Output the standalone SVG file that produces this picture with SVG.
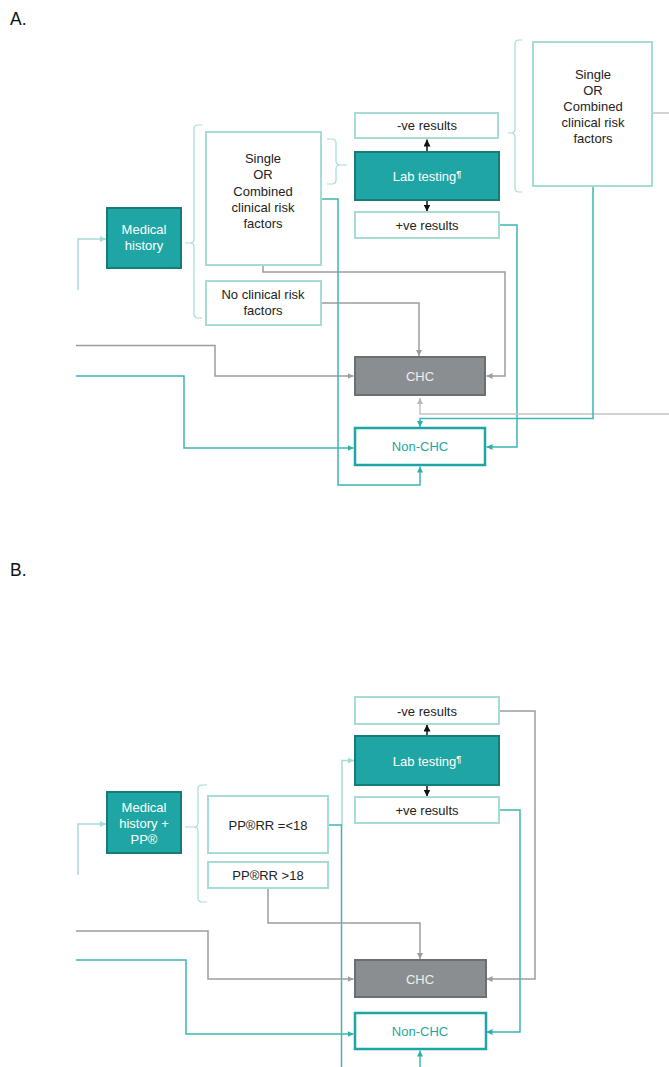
<svg xmlns="http://www.w3.org/2000/svg" width="669" height="1067" viewBox="0 0 669 1067">
<defs>
<style>
text{font-family:"Liberation Sans",Arial,sans-serif;font-size:13px;text-anchor:middle;fill:#222}
.lbl{font-size:17.5px;text-anchor:start;fill:#111}
.dark rect{fill:#1fa5a3;stroke:#167c7a;stroke-width:2}
.dark text{fill:#fff}
.lite rect{fill:#fff;stroke:#a6dbd6;stroke-width:2}
.chc rect{fill:#8b8e91;stroke:#6c6f72;stroke-width:2}
.chc text{fill:#eee}
.non rect{fill:#fff;stroke:#1fa5a3;stroke-width:2.5}
.non text{fill:#1fa5a3}
.c{fill:none;stroke-width:1.5}
.g{stroke:#9a9da0}
.lg{stroke:#c4c4c4}
.t{stroke:#3cb6b3}
.lt{stroke:#a6dbd6}
.k{stroke:#111}
.br{fill:none;stroke:#a6dbd6;stroke-width:1.2}
</style>
<marker id="ag" viewBox="0 0 10 10" refX="10" refY="5" markerWidth="6" markerHeight="6" orient="auto" markerUnits="userSpaceOnUse"><path d="M0,0L10,5L0,10z" fill="#9a9da0"/></marker>
<marker id="alg" viewBox="0 0 10 10" refX="10" refY="5" markerWidth="6" markerHeight="6" orient="auto" markerUnits="userSpaceOnUse"><path d="M0,0L10,5L0,10z" fill="#b8b8b8"/></marker>
<marker id="at" viewBox="0 0 10 10" refX="10" refY="5" markerWidth="6" markerHeight="6" orient="auto" markerUnits="userSpaceOnUse"><path d="M0,0L10,5L0,10z" fill="#2bb0ad"/></marker>
<marker id="alt" viewBox="0 0 10 10" refX="10" refY="5" markerWidth="6" markerHeight="6" orient="auto" markerUnits="userSpaceOnUse"><path d="M0,0L10,5L0,10z" fill="#a6dbd6"/></marker>
<marker id="ak" viewBox="0 0 10 10" refX="10" refY="5" markerWidth="7" markerHeight="7" orient="auto" markerUnits="userSpaceOnUse"><path d="M0,0L10,5L0,10z" fill="#111"/></marker>
</defs>
<rect width="669" height="1067" fill="#fff"/>
<text class="lbl" x="10" y="25">A.</text>
<text class="lbl" x="10" y="576">B.</text>

<g id="connectors">
<!-- Panel A -->
<path class="c lt" d="M78,290V239H106" marker-end="url(#alt)"/>
<path class="c k" d="M427,152V139.5" marker-end="url(#ak)"/>
<path class="c k" d="M427,200V211.5" marker-end="url(#ak)"/>
<path class="c g" d="M263,265V272H505V376H486.5" marker-end="url(#ag)"/>
<path class="c g" d="M321,303H419V356" marker-end="url(#ag)"/>
<path class="c g" d="M76,345.5H215V376H353.5" marker-end="url(#ag)"/>
<path class="c t" d="M76,376H184V448H353.5" marker-end="url(#at)"/>
<path class="c t" d="M321,199H338V485H420V466.5" marker-end="url(#at)"/>
<path class="c t" d="M499,225H517V447H486.5" marker-end="url(#at)"/>
<path class="c lg" d="M669,414H420V398" marker-end="url(#alg)"/>
<path class="c t" d="M593,186V418.5H420V427" marker-end="url(#at)"/>
<path class="c lg" d="M653,113H669"/>
<!-- Panel B -->
<path class="c lt" d="M78,875V824H106" marker-end="url(#alt)"/>
<path class="c k" d="M427,736V724.5" marker-end="url(#ak)"/>
<path class="c k" d="M427,785V796.5" marker-end="url(#ak)"/>
<path class="c lt" d="M342,825V760.5H354" marker-end="url(#alt)"/>
<path class="c t" d="M328,825H341.5V1067"/>
<path class="c g" d="M499,711H535V979H486.5" marker-end="url(#ag)"/>
<path class="c t" d="M499,810H520V1032H486.5" marker-end="url(#at)"/>
<path class="c g" d="M268,888V923H420V959" marker-end="url(#ag)"/>
<path class="c g" d="M76,931H208V979H353.5" marker-end="url(#ag)"/>
<path class="c t" d="M76,960H186V1034H353.5" marker-end="url(#at)"/>
<path class="c t" d="M420,1067V1050.5" marker-end="url(#at)"/>
<!-- braces -->
<path class="br" d="M202,125H198Q194,125 194,129V239Q194,243 190,243H185M190,243Q194,243 194,247V314Q194,318 198,318H202"/>
<path class="br" d="M327,139H332Q336,139 336,143V161Q336,165 340,165H347M340,165Q336,165 336,169V180Q336,184 332,184H327"/>
<path class="br" d="M522,40H519Q515,40 515,44V129Q515,133 511,133H508M511,133Q515,133 515,137V188Q515,192 519,192H522"/>
<path class="br" d="M207,785H202Q198,785 198,789V823Q198,827 194,827H185M194,827Q198,827 198,831V898Q198,902 202,902H207"/>
</g>

<g id="medhistA" class="dark"><rect x="107" y="208" width="74" height="60"/><text x="144" y="234">Medical</text><text x="144" y="250">history</text></g>
<g id="singleA" class="lite"><rect x="206" y="132" width="115" height="133"/><text x="263" y="163">Single</text><text x="263" y="179">OR</text><text x="263" y="196">Combined</text><text x="263" y="212">clinical risk</text><text x="263" y="228">factors</text></g>
<g id="noriskA" class="lite"><rect x="206" y="281" width="115" height="44"/><text x="263" y="299">No clinical risk</text><text x="263" y="315">factors</text></g>
<g id="negA" class="lite"><rect x="355" y="113" width="143" height="25"/><text x="427" y="130">-ve results</text></g>
<g id="labA" class="dark"><rect x="355" y="152" width="144" height="48"/><text x="427" y="181">Lab testing<tspan font-size="9" font-weight="bold" dy="-4">¶</tspan></text></g>
<g id="posA" class="lite"><rect x="355" y="212" width="144" height="26"/><text x="427" y="230">+ve results</text></g>
<g id="singleA2" class="lite"><rect x="533" y="42" width="119" height="144"/><text x="593" y="79">Single</text><text x="593" y="95">OR</text><text x="593" y="111">Combined</text><text x="593" y="127">clinical risk</text><text x="593" y="143">factors</text></g>
<g id="chcA" class="chc"><rect x="355" y="357" width="130" height="38"/><text x="420" y="381">CHC</text></g>
<g id="nonchcA" class="non"><rect x="355" y="428" width="130" height="37"/><text x="420" y="451">Non-CHC</text></g>

<g id="medhistB" class="dark"><rect x="107" y="792" width="74" height="61"/><text x="144" y="812">Medical</text><text x="144" y="828">history +</text><text x="144" y="844">PP®</text></g>
<g id="pple18" class="lite"><rect x="208" y="796" width="120" height="57"/><text x="268" y="830">PP®RR =&lt;18</text></g>
<g id="ppgt18" class="lite"><rect x="208" y="862" width="120" height="26"/><text x="268" y="880">PP®RR &gt;18</text></g>
<g id="negB" class="lite"><rect x="355" y="697" width="144" height="27"/><text x="427" y="716">-ve results</text></g>
<g id="labB" class="dark"><rect x="355" y="736" width="144" height="49"/><text x="427" y="766">Lab testing<tspan font-size="9" font-weight="bold" dy="-4">¶</tspan></text></g>
<g id="posB" class="lite"><rect x="355" y="797" width="144" height="26"/><text x="427" y="815">+ve results</text></g>
<g id="chcB" class="chc"><rect x="355" y="960" width="131" height="37"/><text x="420" y="984">CHC</text></g>
<g id="nonchcB" class="non"><rect x="355" y="1013" width="131" height="36"/><text x="420" y="1036">Non-CHC</text></g>
</svg>
